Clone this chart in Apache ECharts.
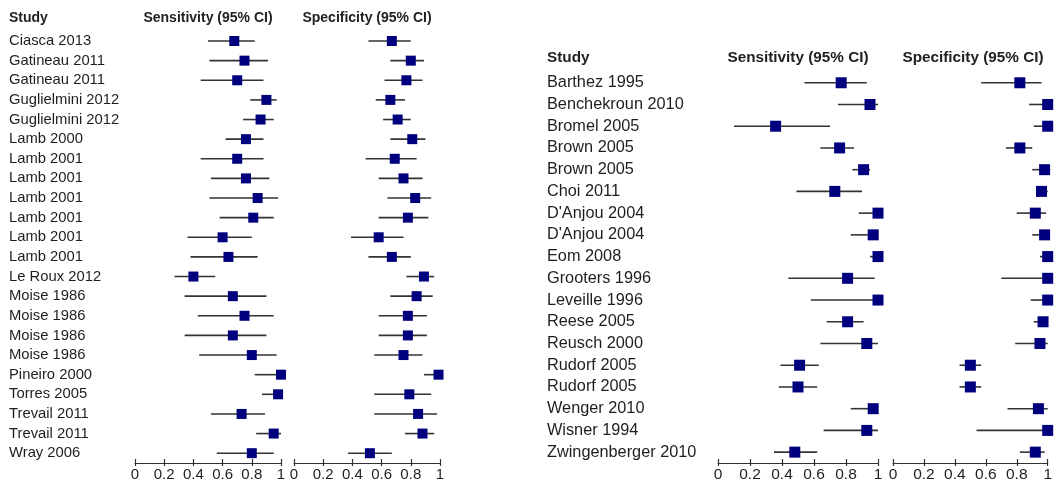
<!DOCTYPE html>
<html>
<head>
<meta charset="utf-8">
<script src="https://cdn.jsdelivr.net/npm/echarts@6/dist/echarts.min.js"></script>
<style>
  html, body { margin: 0; padding: 0; background: #fff; }
  #chart { width: 1055px; height: 483px; }
</style>
</head>
<body>
<div id="chart"></div>
<script>
//--------------------------------
// Data
//--------------------------------
const ticks = [0, 0.2, 0.4, 0.6, 0.8, 1];

// left panel
const leftStudies = ['Ciasca 2013', 'Gatineau 2011', 'Gatineau 2011', 'Guglielmini 2012', 'Guglielmini 2012',
    'Lamb 2000', 'Lamb 2001', 'Lamb 2001', 'Lamb 2001', 'Lamb 2001', 'Lamb 2001', 'Lamb 2001',
    'Le Roux 2012', 'Moise 1986', 'Moise 1986', 'Moise 1986', 'Moise 1986', 'Pineiro 2000',
    'Torres 2005', 'Trevail 2011', 'Trevail 2011', 'Wray 2006'];
const leftSens   = [0.68, 0.75, 0.70, 0.90, 0.86, 0.76, 0.70, 0.76, 0.84, 0.81, 0.60, 0.64, 0.40, 0.67, 0.75, 0.67, 0.80, 1.00, 0.98, 0.73, 0.95, 0.80];
const leftSensLo = [0.50, 0.51, 0.45, 0.79, 0.74, 0.62, 0.45, 0.52, 0.51, 0.58, 0.36, 0.38, 0.27, 0.34, 0.43, 0.34, 0.44, 0.82, 0.87, 0.52, 0.83, 0.56];
const leftSensHi = [0.82, 0.91, 0.88, 0.97, 0.95, 0.88, 0.88, 0.92, 0.98, 0.95, 0.80, 0.84, 0.55, 0.90, 0.95, 0.90, 0.97, 1.00, 1.00, 0.89, 1.00, 0.95];
const leftSpec   = [0.67, 0.80, 0.77, 0.66, 0.71, 0.81, 0.69, 0.75, 0.83, 0.78, 0.58, 0.67, 0.89, 0.84, 0.78, 0.78, 0.75, 0.99, 0.79, 0.85, 0.88, 0.52];
const leftSpecLo = [0.51, 0.66, 0.62, 0.56, 0.61, 0.66, 0.49, 0.58, 0.64, 0.58, 0.39, 0.51, 0.77, 0.66, 0.58, 0.58, 0.55, 0.89, 0.55, 0.55, 0.76, 0.37];
const leftSpecHi = [0.80, 0.89, 0.88, 0.76, 0.80, 0.90, 0.84, 0.88, 0.94, 0.92, 0.75, 0.80, 0.96, 0.95, 0.91, 0.91, 0.88, 1.00, 0.94, 0.98, 0.96, 0.67];

// right panel
const rightStudies = ['Barthez 1995', 'Benchekroun 2010', 'Bromel 2005', 'Brown 2005', 'Brown 2005', 'Choi 2011',
    "D'Anjou 2004", "D'Anjou 2004", 'Eom 2008', 'Grooters 1996', 'Leveille 1996', 'Reese 2005',
    'Reusch 2000', 'Rudorf 2005', 'Rudorf 2005', 'Wenger 2010', 'Wisner 1994', 'Zwingenberger 2010'];
const rightSens   = [0.77, 0.95, 0.36, 0.76, 0.91, 0.73, 1.00, 0.97, 1.00, 0.81, 1.00, 0.81, 0.93, 0.51, 0.50, 0.97, 0.93, 0.48];
const rightSensLo = [0.54, 0.75, 0.10, 0.64, 0.84, 0.49, 0.88, 0.83, 0.95, 0.44, 0.58, 0.68, 0.64, 0.39, 0.38, 0.83, 0.66, 0.35];
const rightSensHi = [0.93, 1.00, 0.70, 0.85, 0.95, 0.90, 1.00, 1.00, 1.00, 0.98, 1.00, 0.91, 1.00, 0.63, 0.62, 1.00, 1.00, 0.62];
const rightSpec   = [0.82, 1.00, 1.00, 0.82, 0.98, 0.96, 0.92, 0.98, 1.00, 1.00, 1.00, 0.97, 0.95, 0.50, 0.50, 0.94, 1.00, 0.92];
const rightSpecLo = [0.57, 0.88, 0.91, 0.73, 0.90, 0.93, 0.80, 0.90, 0.95, 0.70, 0.89, 0.91, 0.79, 0.43, 0.43, 0.74, 0.54, 0.82];
const rightSpecHi = [0.96, 1.00, 1.00, 0.90, 1.00, 1.00, 0.99, 1.00, 1.00, 1.00, 1.00, 1.00, 1.00, 0.57, 0.57, 1.00, 1.00, 0.98];

//--------------------------------
// Helpers
//--------------------------------
const FONT = 'Liberation Sans, Arial, sans-serif';
const TXT = '#1e1e1e';

const toRows = (est, lo, hi) => est.map((v, i) => [lo[i], v, hi[i], i]);

const makeRender = (size) => (params, api) => {
    const y = api.value(3);
    const a = api.coord([api.value(0), y]);
    const b = api.coord([api.value(2), y]);
    const m = api.coord([api.value(1), y]);
    return {
        type: 'group',
        children: [
            { type: 'line', shape: { x1: a[0], y1: a[1], x2: b[0], y2: b[1] },
              style: { stroke: '#333', lineWidth: 1.6 } },
            { type: 'rect', shape: { x: m[0] - size / 2, y: m[1] - size / 2, width: size, height: size },
              style: { fill: '#00007f' } }
        ]
    };
};

// grids: left sens, left spec, right sens, right spec
const grids = [
    { left: 135, width: 146, top: 31.2, bottom: 20 },
    { left: 294, width: 146, top: 31.2, bottom: 20 },
    { left: 718, width: 160, top: 71.9, bottom: 20 },
    { left: 893, width: 160, top: 71.9, bottom: 20 }
];

let xAxes = [];
grids.forEach((g, k) => {
    const fs = k < 2 ? 15 : 15.5;
    // main axis: line, lower tick part, labels
    xAxes.push({
        gridIndex: k, type: 'value', position: 'bottom',
        min: ticks[0], max: ticks[ticks.length - 1], interval: 0.2,
        splitLine: { show: false },
        axisLine: { show: true, lineStyle: { color: '#333', width: 1 } },
        axisTick: { show: true, length: 3, lineStyle: { color: '#333', width: 1.2 } },
        axisLabel: { show: true, margin: 4, fontSize: fs, fontFamily: FONT, color: TXT,
                     formatter: (v) => String(Math.round(v * 10) / 10) }
    });
    // upper tick part
    xAxes.push({
        gridIndex: k, type: 'value', position: 'bottom',
        min: ticks[0], max: ticks[ticks.length - 1], interval: 0.2,
        splitLine: { show: false },
        axisLine: { show: false },
        axisTick: { show: true, inside: true, length: 4, lineStyle: { color: '#333', width: 1.2 } },
        axisLabel: { show: false }
    });
});

const yAxes = [
    { gridIndex: 0, type: 'category', inverse: true, data: leftStudies,
      axisLine: { show: false }, axisTick: { show: false },
      axisLabel: { show: true, interval: 0, align: 'left', margin: 126, fontSize: 14.8, fontFamily: FONT, color: TXT } },
    { gridIndex: 1, type: 'category', inverse: true, data: leftStudies, show: false },
    { gridIndex: 2, type: 'category', inverse: true, data: rightStudies,
      axisLine: { show: false }, axisTick: { show: false },
      axisLabel: { show: true, interval: 0, align: 'left', margin: 171, fontSize: 16.3, fontFamily: FONT, color: TXT } },
    { gridIndex: 3, type: 'category', inverse: true, data: rightStudies, show: false }
];

const panels = [
    toRows(leftSens, leftSensLo, leftSensHi),
    toRows(leftSpec, leftSpecLo, leftSpecHi),
    toRows(rightSens, rightSensLo, rightSensHi),
    toRows(rightSpec, rightSpecLo, rightSpecHi)
];

const series = panels.map((rows, k) => ({
    type: 'custom',
    xAxisIndex: k * 2,
    yAxisIndex: k,
    renderItem: makeRender(k < 2 ? 10 : 11),
    encode: { x: [0, 1, 2], y: 3 },
    data: rows,
    silent: true
}));

const header = (text, x, y, size, align) => ({
    type: 'text', x: x, y: y, silent: true,
    style: { text: text, font: 'bold ' + size + 'px ' + FONT, fill: '#222',
             textAlign: align, textVerticalAlign: 'middle' }
});

//--------------------------------
// Chart
//--------------------------------
const myChart = echarts.init(document.getElementById('chart'), null, { renderer: 'canvas' });
myChart.setOption({
    animation: false,
    backgroundColor: '#fff',
    grid: grids,
    xAxis: xAxes,
    yAxis: yAxes,
    series: series,
    graphic: [
        header('Study', 9, 18, 14, 'left'),
        header('Sensitivity (95% CI)', 208, 18, 14, 'center'),
        header('Specificity (95% CI)', 367, 18, 14, 'center'),
        header('Study', 547, 58, 15.3, 'left'),
        header('Sensitivity (95% CI)', 798, 58, 15.3, 'center'),
        header('Specificity (95% CI)', 973, 58, 15.3, 'center')
    ]
});
</script>
</body>
</html>
